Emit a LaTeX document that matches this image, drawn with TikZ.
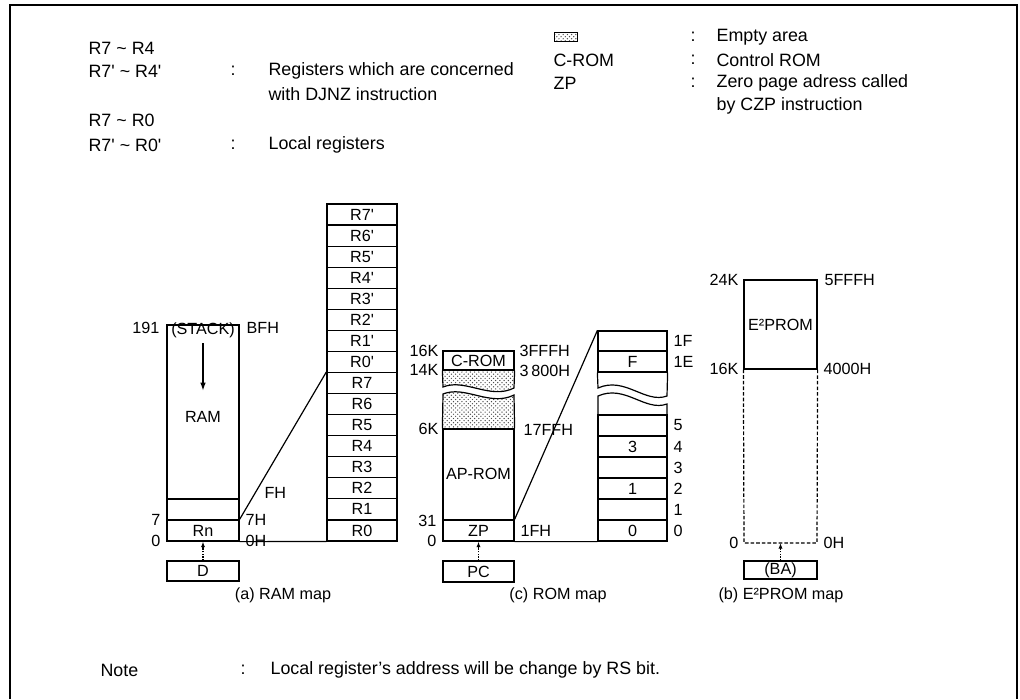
\documentclass[tikz,border=0pt]{standalone}
\usepackage{fontspec}
\setmainfont{Liberation Sans}
\usetikzlibrary{arrows.meta, positioning, patterns}
\newcommand{\regp}{\textquotesingle}

\begin{document}
\begin{tikzpicture}[
  x=0.025cm, y=-0.025cm,
  font=\fontsize{11.5}{13}\selectfont,
  line width=0.85pt,
  % Box styles
  txt/.style={inner sep=0pt},
  legend/.style={inner sep=0pt, anchor=west, font=\fontsize{12.7}{14}\selectfont},
  reg/.style={draw, inner sep=0pt, minimum width=1.75cm, minimum height=0.5265cm},
  ramcol/.style={draw, inner sep=0pt, minimum width=1.8cm},
  romcol/.style={draw, inner sep=0pt, minimum width=1.775cm},
  zpcol/.style={draw, inner sep=0pt, minimum width=1.725cm},
  eecol/.style={draw, inner sep=0pt, minimum width=1.825cm},
  empty/.style={pattern=crosshatch dots, pattern color=black!70},
  ptr/.style={-{Latex[length=4pt,width=3pt]}, densely dotted, line width=0.9pt},
]
\useasboundingbox (0,0) rectangle (1020,699);

% ---- FRAME ----
\draw[line width=1.4pt] (10,699) -- (10,5) -- (1017,5) -- (1017,699);

% ---- LEGEND ----
\node[legend] (l1)  at (88,48)  {R7 \textasciitilde{} R4};
\node[legend] (l2)  at (88,71)  {R7\regp{} \textasciitilde{} R4\regp};
\node[legend] (c2)  at (230,71) {:};
\node[legend] (t2)  at (268,71) {Registers which are concerned};
\node[legend] (t2b) at (268,94) {with DJNZ instruction};
\node[legend] (l3)  at (88,120) {R7 \textasciitilde{} R0};
\node[legend] (l4)  at (88,145) {R7\regp{} \textasciitilde{} R0\regp};
\node[legend] (c4)  at (230,145) {:};
\node[legend] (t4)  at (268,145) {Local registers};

\node[draw, empty, minimum width=0.575cm, minimum height=0.225cm, inner sep=0pt,
      line width=0.9pt] (swatch) at (566,37) {};
\node[legend] (c5)  at (690,37)  {:};
\node[legend] (t5)  at (716,37)  {Empty area};
\node[legend] (l6)  at (553,60)  {C-ROM};
\node[legend] (c6)  at (690,60)  {:};
\node[legend] (t6)  at (716,60)  {Control ROM};
\node[legend] (l7)  at (553,83)  {ZP};
\node[legend] (c7)  at (690,83)  {:};
\node[legend] (t7)  at (716,83)  {Zero page adress called};
\node[legend] (t7b) at (716,106) {by CZP instruction};

% ---- RAM MAP ----
\node[ramcol, minimum height=4.35cm] (ram) at (203,412) {};
\node[ramcol, minimum height=0.525cm] (ramf) at (203,509.5) {};
\node[ramcol, minimum height=0.525cm] (rn) at (203,530.5) {Rn};
\node[txt] (stack) at (203,330) {(STACK)};
\node[txt] (ramlbl) at (203,417) {RAM};
\draw[-{Latex[length=6pt,width=4pt]}, line width=1.1pt] (203,343) -- (203,391);

\node[txt, anchor=east] at (160,328) {191};
\node[txt, anchor=west] at (246,328) {BFH};
\node[txt, anchor=east] at (161,520) {7};
\node[txt, anchor=east] at (161,541) {0};
\node[txt, anchor=west] at (245,520) {7H};
\node[txt, anchor=west] at (245,541) {0H};
\node[txt, anchor=west] at (264,493) {FH};

\node[ramcol, minimum height=0.5cm] (dreg) at (203,571) {D};
\draw[ptr] (dreg.north) -- (rn.south);
\node[txt] (capa) at (283,595) {(a) RAM map};

% register file
\foreach \r [count=\i] in {R7\regp,R6\regp,R5\regp,R4\regp,R3\regp,R2\regp,R1\regp,R0\regp,
                           R7,R6,R5,R4,R3,R2,R1,R0}
  \node[reg] (reg\i) at (362,{204+21.06*(\i-0.5)}) {\r};

\draw (rn.north east) -- (reg9.north west);
\draw (rn.south east) -- (reg16.south west);

% ---- ROM MAP ----
\node[romcol, minimum height=0.475cm] (crom) at (478.5,360.5) {C-ROM};
\node[romcol, minimum height=2.275cm] (aprom) at (478.5,474.5) {};
\node[txt] at (478.5,474) {AP-ROM};
\node[romcol, minimum height=0.525cm] (zp) at (478.5,530.5) {ZP};

% empty area with break
\path[empty] (crom.south west) -- (crom.south east) -- (514,388)
  .. controls (490,400) and (465,378) .. (443,387) -- cycle;
\path[empty] (443,394) .. controls (465,385) and (490,407) .. (514,395)
  -- (aprom.north east) -- (aprom.north west) -- cycle;
\draw (crom.south west) -- (443,387) .. controls (465,378) and (490,400) .. (514,388)
  -- (crom.south east);
\draw (aprom.north west) -- (443,394) .. controls (465,385) and (490,407) .. (514,395)
  -- (aprom.north east);

\node[txt, anchor=east] at (439,351) {16K};
\node[txt, anchor=east] at (439,370) {14K};
\node[txt, anchor=east] at (439,429) {6K};
\node[txt, anchor=east] at (437,521) {31};
\node[txt, anchor=east] at (437,541) {0};
\node[txt, anchor=west] at (519,351) {3FFFH};
\node[txt, anchor=west] at (519,371) {3\,800H};
\node[txt, anchor=west] at (523,430) {17FFH};
\node[txt, anchor=west] at (520,531) {1FH};

\node[romcol, minimum height=0.525cm] (pc) at (478.5,571.5) {PC};
\draw[ptr] (pc.north) -- (zp.south);
\node[txt] (capc) at (558,595) {(c) ROM map};

% zero page detail
\node[zpcol, minimum height=0.5cm] (d1f) at (632.5,341) {};
\node[zpcol, minimum height=0.525cm] (d1e) at (632.5,361.5) {F};
\draw (d1e.south west) -- (598,388) .. controls (625,376) and (645,404) .. (667,396)
  -- (d1e.south east);
\draw (598,415) -- (598,396) .. controls (625,384) and (645,412) .. (667,404) -- (667,415);
\foreach \t/\n [count=\i] in {{}/5, 3/4, {}/3, 1/2, {}/1, 0/0} {
  \node[zpcol, minimum height=0.5265cm] (row\n) at (632.5,{415+21*(\i-0.5)}) {\t};
  \node[txt, anchor=west] at (673,{415+21*(\i-0.5)}) {\n};
}
\node[txt, anchor=west] at (673,341) {1F};
\node[txt, anchor=west] at (673,362) {1E};

\draw (zp.north east) -- (d1f.north west);
\draw (zp.south east) -- (row0.south west);

% ---- E2PROM MAP ----
\node[eecol, minimum height=2.225cm] (ee) at (780.5,324.5) {E²PROM};
\coordinate (eebl) at (744,543);
\coordinate (eebr) at (817,543);
\coordinate (eebot) at (780.5,543);
\draw[dash pattern=on 2.5pt off 1.5pt] (ee.south west) -- (eebl) -- (eebr) -- (ee.south east);

\node[txt, anchor=east] at (739,280) {24K};
\node[txt, anchor=east] at (739,369) {16K};
\node[txt, anchor=east] at (739,543) {0};
\node[txt, anchor=west] at (824,280) {5FFFH};
\node[txt, anchor=west] at (823,369) {4000H};
\node[txt, anchor=west] at (823,543) {0H};

\node[eecol, minimum height=0.45cm] (ba) at (780.5,570) {(BA)};
\draw[ptr] (ba.north) -- (eebot);
\node[txt] (capb) at (781,595) {(b) E²PROM map};

% ---- NOTE ----
\node[legend] (note) at (100,670) {Note};
\node[legend] (cn)   at (240,670) {:};
\node[legend] (tn)   at (270,670) {Local register's address will be change by RS bit.};

\end{tikzpicture}
\end{document}
